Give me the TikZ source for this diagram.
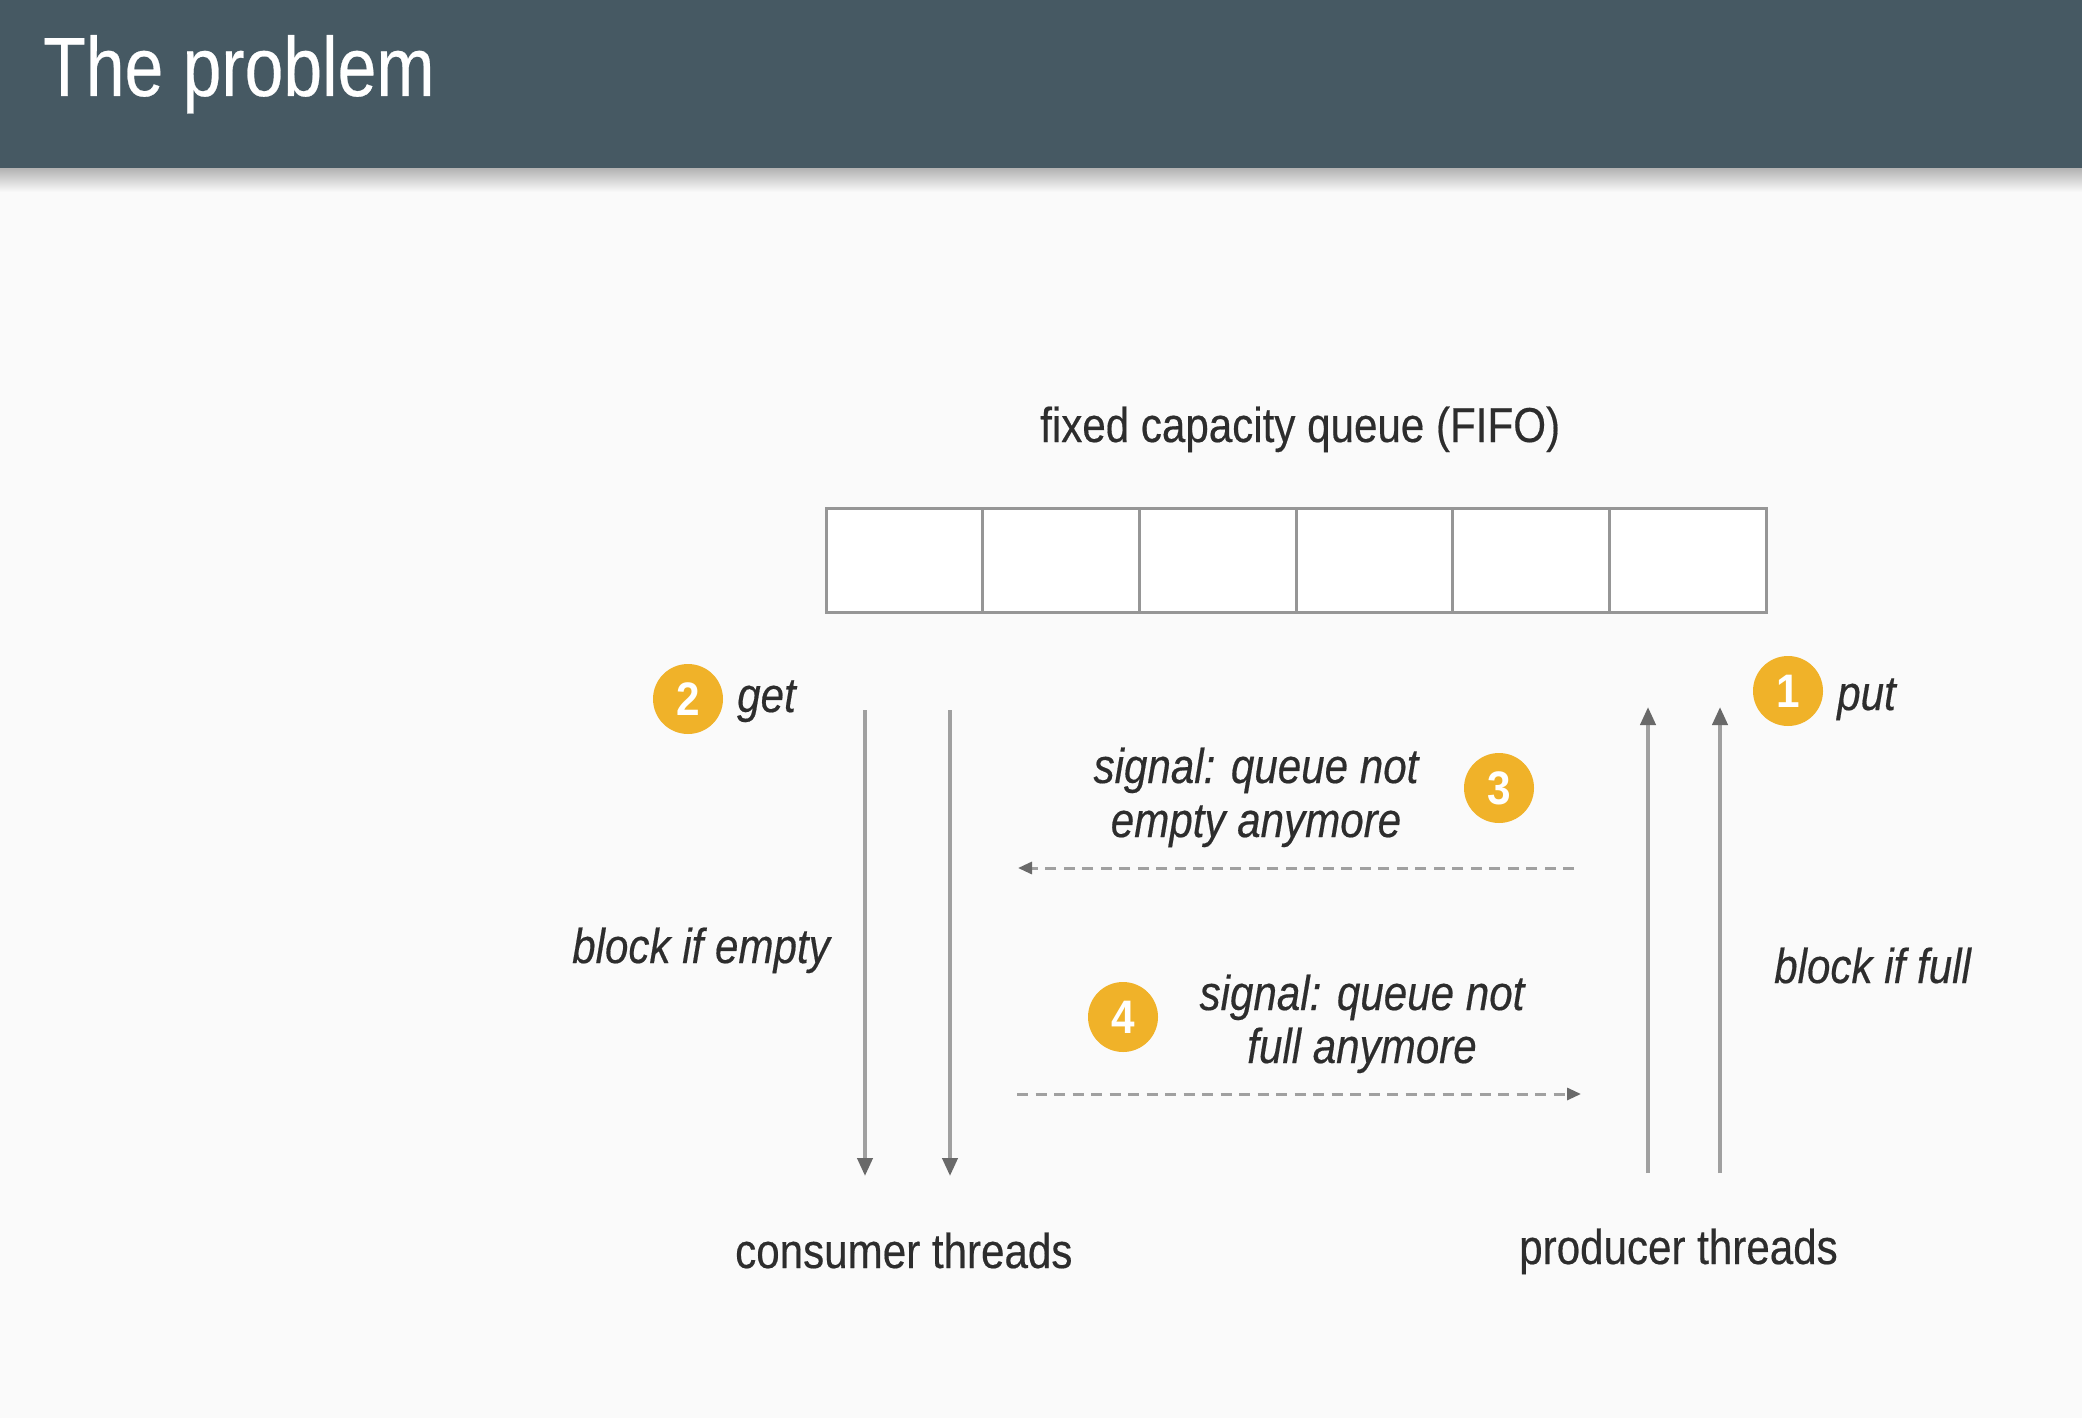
\documentclass[tikz,border=0pt]{standalone}
\usepackage{fontspec}
\setmainfont{Liberation Sans}[FakeStretch=0.86,FakeBold=0.35]
\newfontfamily\titlefont{Liberation Sans}[FakeStretch=0.83,FakeBold=0.3]
\newfontfamily\digitfont{Liberation Sans}[FakeStretch=0.9]
\usetikzlibrary{arrows.meta}
\definecolor{bgc}{RGB}{250,250,250}
\definecolor{headc}{RGB}{70,89,99}
\definecolor{badgec}{RGB}{240,178,41}
\definecolor{txtc}{RGB}{45,45,45}
\definecolor{cellline}{RGB}{150,150,150}
\definecolor{arrline}{RGB}{160,160,160}
\definecolor{tipc}{RGB}{105,105,105}
\tikzset{
  lbl/.style={inner sep=0pt, text=txtc, font=\fontsize{49}{54}\selectfont},
  ilbl/.style={lbl, font=\fontsize{49}{54}\selectfont\itshape},
  badge/.style={circle, fill=badgec, minimum size=70pt, inner sep=0pt, text=white, font=\digitfont\fontsize{47}{47}\selectfont\bfseries},
  cell/.style={draw=cellline, line width=3pt, fill=white, minimum width=156.67pt, minimum height=104pt, inner sep=0pt},
  thread/.style={draw=arrline, line width=4pt, -{Triangle[width=15pt,length=18pt,color=tipc]}},
  signal/.style={draw=arrline, line width=3pt, dash pattern=on 11pt off 7.5pt, -{Triangle[width=12pt,length=14pt,color=tipc]}}
}
\begin{document}
\begin{tikzpicture}[x=1pt,y=-1pt]
\useasboundingbox (0,0) rectangle (2082,1418);
\fill[bgc] (0,0) rectangle (2082,1418);
% header
\fill[headc] (0,0) rectangle (2082,168);
\shade[top color=black!30, bottom color=bgc] (0,168) rectangle (2082,192);
\node[anchor=base west, inner sep=0pt, text=white, font=\titlefont\fontsize{84}{90}\selectfont] (title) at (43,96) {The problem};
% queue
\node[lbl, anchor=base west] (qlabel) at (1040,442) {fixed capacity queue (FIFO)};
\foreach \i in {1,...,6} {
  \node[cell] (q\i) at ({826+156.67*(\i-0.5)},560) {};
}
% badges and labels
\node[badge] (b2) at (688,699) {2};
\node[ilbl, anchor=base west] (get) at (737,712) {get};
\node[badge] (b1) at (1788,691) {1};
\node[ilbl, anchor=base west] (put) at (1837,710) {put};
\node[badge] (b3) at (1499,788) {3};
\node[badge] (b4) at (1123,1017) {4};
% consumer threads
\coordinate (c1s) at (865,710);
\coordinate (c1e) at (865,1176);
\coordinate (c2s) at (950,710);
\coordinate (c2e) at (950,1176);
\draw[thread] (c1s) -- (c1e);
\draw[thread] (c2s) -- (c2e);
% producer threads
\coordinate (p1s) at (1648,1173);
\coordinate (p1e) at (1648,707);
\coordinate (p2s) at (1720,1173);
\coordinate (p2e) at (1720,707);
\draw[thread] (p1s) -- (p1e);
\draw[thread] (p2s) -- (p2e);
% signals
\coordinate (s3s) at (1574,868);
\coordinate (s3e) at (1018,868);
\draw[signal] (s3s) -- (s3e);
\coordinate (s4s) at (1017,1094);
\coordinate (s4e) at (1581,1094);
\draw[signal] (s4s) -- (s4e);
\node[ilbl, anchor=base] (sig3a) at (1256,783) {signal: queue not};
\node[ilbl, anchor=base] (sig3b) at (1256,837) {empty anymore};
\node[ilbl, anchor=base] (sig4a) at (1362,1010) {signal: queue not};
\node[ilbl, anchor=base] (sig4b) at (1362,1063) {full anymore};
% block labels
\node[ilbl, anchor=base west] (bempty) at (572,963) {block if empty};
\node[ilbl, anchor=base west] (bfull) at (1774,983) {block if full};
% thread labels
\node[lbl, anchor=base west] (cons) at (735,1268) {consumer threads};
\node[lbl, anchor=base west] (prod) at (1519,1264) {producer threads};
\end{tikzpicture}
\end{document}
